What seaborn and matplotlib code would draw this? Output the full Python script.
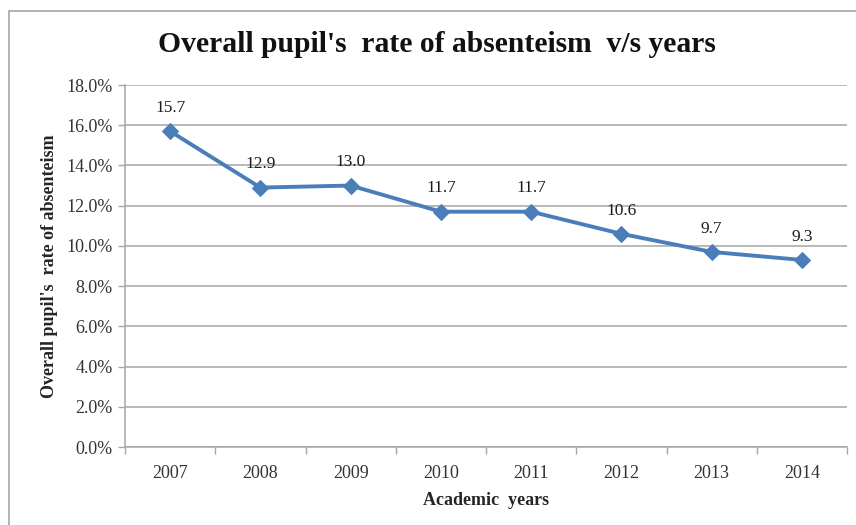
import matplotlib
matplotlib.use("Agg")
import matplotlib.pyplot as plt
from matplotlib.patches import Rectangle
from matplotlib.ticker import FuncFormatter, FixedLocator
import seaborn as sns
import pandas as pd

years = ["2007", "2008", "2009", "2010", "2011", "2012", "2013", "2014"]
rates = [15.7, 12.9, 13.0, 11.7, 11.7, 10.6, 9.7, 9.3]
y_ticks = [0, 2, 4, 6, 8, 10, 12, 14, 16, 18]

df = pd.DataFrame({"year": years, "rate": rates})

sns.set_theme(style="white")
plt.rcParams["font.family"] = ["Liberation Serif", "DejaVu Serif"]

fig = plt.figure(figsize=(8.56, 5.25), dpi=100)
ax = fig.add_axes([125 / 856, 1 - 447 / 525, (847 - 125) / 856, (447 - 85) / 525])

# chart-area frame
fig.patches.append(Rectangle((9 / 856, -0.1), 1.2, 1 - 11 / 525 + 0.1,
                             transform=fig.transFigure, fill=False,
                             edgecolor="#a6a6a6", linewidth=1.2, zorder=0))

line_color = "#4a7ebb"
sns.lineplot(data=df, x="year", y="rate", ax=ax, color=line_color,
             linewidth=2.8, marker="D", markersize=8.5,
             markeredgecolor=line_color, markerfacecolor=line_color, zorder=3)

for i, v in enumerate(rates):
    ax.annotate(f"{v:.1f}", (i, v), xytext=(0, 11), textcoords="offset points",
                ha="center", va="bottom", fontsize=12.5, color="#1a1a1a")

ax.set_xlim(-0.5, len(years) - 0.5)
ax.set_ylim(0, 18)
ax.set_yticks(y_ticks)
ax.yaxis.set_major_formatter(FuncFormatter(lambda v, p: f"{v:.1f}%"))
ax.grid(axis="y", color="#a6a6a6", linewidth=1.1)
ax.grid(axis="x", visible=False)
ax.set_axisbelow(True)

for side in ["top", "right"]:
    ax.spines[side].set_visible(False)
for side in ["left", "bottom"]:
    ax.spines[side].set_color("#a6a6a6")
    ax.spines[side].set_linewidth(1.1)

ax.tick_params(axis="y", which="major", left=True, length=5, width=1,
               color="#a6a6a6", labelsize=13, labelcolor="#333333", pad=4)
ax.tick_params(axis="x", which="major", bottom=False, labelsize=13,
               labelcolor="#333333", pad=7)
ax.xaxis.set_minor_locator(FixedLocator([i - 0.5 for i in range(len(years) + 1)]))
ax.tick_params(axis="x", which="minor", bottom=True, length=5, width=1,
               color="#a6a6a6")

ax.set_xlabel("Academic  years", fontsize=13, fontweight="bold", labelpad=7)
ax.set_ylabel("Overall pupil's  rate of absenteism", fontsize=13,
              fontweight="bold", labelpad=6)

fig.text(437 / 856, 1 - 45 / 525, "Overall pupil's  rate of absenteism  v/s years",
         ha="center", va="center", fontsize=21.3, fontweight="bold", color="#111111")

fig.savefig("out.png", dpi=100, facecolor="white")
